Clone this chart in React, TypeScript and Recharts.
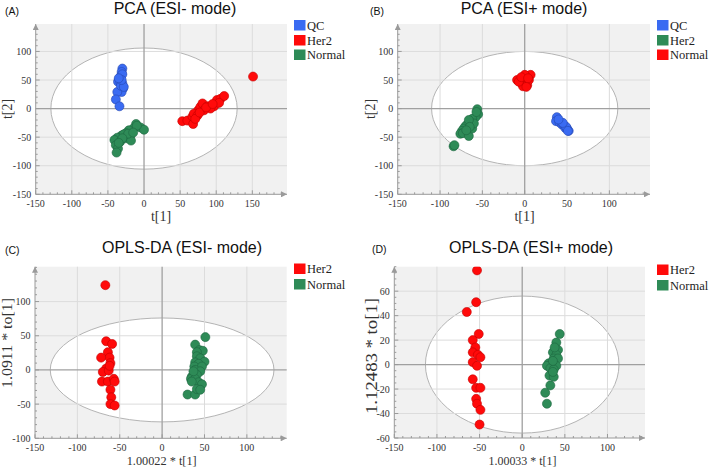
import React from 'react';
import {
  ScatterChart, Scatter, XAxis, YAxis, CartesianGrid,
  ReferenceArea, ReferenceLine
} from 'recharts';

// ---- data (score values) ----
const pcaNegQC = [[-30, 70], [-31, 64], [-32, 57], [-34, 51], [-36, 47], [-33, 47], [-30, 44], [-29, 35], [-31, 29], [-37, 29], [-39, 16], [-34, 4], [-30, 60], [-32, 40], [-28, 38], [-31, 50], [-35, 53]];
const pcaNegHer2 = [[53, -22], [60, -21], [67, -14], [68, -27], [75, -3], [69, -9], [78, 3], [81, 9], [88, 4], [97, 4], [101, 15], [106, 17], [111, 22], [104, 10], [92, 0], [83, -3], [74, -12], [71, -18], [77, -7], [86, 2], [95, 8], [151, 56]];
const pcaNegNormal = [[-11, -27], [-5, -33], [0, -37], [-15, -35], [-21, -38], [-25, -43], [-19, -48], [-25, -52], [-31, -47], [-37, -51], [-41, -55], [-33, -58], [-39, -64], [-36, -70], [-38, -77], [-10, -30], [-18, -56], [-28, -45], [-22, -44], [-30, -52], [-35, -60], [-15, -42]];

const pcaPosQC = [[38, -15], [37, -22], [41, -24], [44, -28], [46, -29], [48, -34], [50, -35], [52, -39], [49, -32], [45, -25], [51, -39], [40, -19]];
const pcaPosHer2 = [[-56, -1], [-55, -10], [-58, -15], [-62, -18], [-64, -25], [-68, -28], [-70, -31], [-72, -35], [-74, -39], [-76, -44], [-73, -43], [-66, -48], [-62, -35], [-60, -26], [-66, -20], [-65, -32], [-84, -66], [-83, -64], [-57, -6], [-69, -38]];
const pcaPosNormal = [[-9, 50], [-4, 45], [-1, 53], [3, 57], [7, 59], [1, 44], [-2, 39], [3, 41], [-7, 47], [5, 50], [0, 59], [-4, 55], [2, 38], [4, 53]];

const oplsNegHer2 = [[-67, 124], [-66, 42], [-59, 38], [-64, 26], [-62, 18], [-72, 18], [-61, 10], [-66, 2], [-70, -3], [-63, -1], [-71, -17], [-64, -17], [-57, -13], [-56, -17], [-61, -29], [-60, -40], [-61, -50], [-56, -52], [-62, 6]];
const oplsNegNormal = [[51, 48], [39, 37], [44, 29], [48, 28], [41, 26], [41, 20], [45, 17], [39, 11], [50, 12], [43, 9], [38, 5], [47, 5], [39, 0], [45, -2], [35, -10], [41, -7], [34, -13], [39, -13], [43, -18], [47, -21], [30, -36], [39, -36], [41, -28], [45, -29], [37, -2], [35, -17]];

const oplsPosHer2 = [[-53, 77], [-54, 51], [-65, 43], [-51, 25], [-58, 20], [-55, 14], [-58, 10], [-52, 8], [-49, 6], [-58, 2], [-53, -1], [-58, -12], [-54, -19], [-49, -19], [-54, -28], [-53, -32], [-49, -37], [-50, -49]];
const oplsPosNormal = [[44, 25], [40, 18], [42, 12], [36, 10], [40, 8], [37, 5], [42, 5], [31, 1], [35, -1], [29, -1], [40, -1], [33, -3], [37, -4], [32, -9], [37, -10], [33, -17], [27, -23], [29, -32], [36, 3], [38, 14], [36, -6]];

// tick labels
const xTicksAll = [-150, -100, -50, 0, 50, 100, 150];
const xTicksB = [-150, -100, -50, 0, 50, 100];
const yTicksPCA = [-150, -100, -50, 0, 50, 100];
const yTicksC = [-100, -50, 0, 50, 100];
const yTicksD = [-60, -40, -20, 0, 20, 40, 60];

const SERIF = '"Liberation Serif", "Times New Roman", serif';
const SANS = '"Liberation Sans", Arial, sans-serif';
const BLUE = '#3a6bf2';
const RED = '#ff0a0a';
const GREEN = '#2e8b57';
const EDGE: Record<string, string> = { [BLUE]: '#2546b0', [RED]: '#c40000', [GREEN]: '#1c6640' };

const toPts = (arr: number[][]) => arr.map(([x, y]) => ({ x, y }));

const minorTicks = (d: number[], step: number) => {
  const out: number[] = [];
  for (let v = d[0]; v <= d[1] + 1e-6; v += step) out.push(Math.round(v * 100) / 100);
  return out;
};

const XTick = ({ x, y, payload, major }: any) => {
  const isMajor = major.includes(payload.value);
  return (
    <g>
      <line x1={x} x2={x} y1={y} y2={y - (isMajor ? 4 : 2)} stroke="#9a9a9a" />
      {isMajor && (
        <text x={x} y={y + 12.5} textAnchor="middle" fontSize={10} fontFamily={SERIF} fill="#333">{payload.value}</text>
      )}
    </g>
  );
};

const YTick = ({ x, y, payload, major }: any) => {
  const isMajor = major.includes(payload.value);
  return (
    <g>
      <line x1={x} x2={x + (isMajor ? 4 : 2)} y1={y} y2={y} stroke="#9a9a9a" />
      {isMajor && (
        <text x={x - 4.5} y={y + 3.5} textAnchor="end" fontSize={10} fontFamily={SERIF} fill="#333">{payload.value}</text>
      )}
    </g>
  );
};

const EllipseShape = (p: any) => (
  <ellipse
    cx={p.x + p.width / 2}
    cy={p.y + p.height / 2}
    rx={Math.abs(p.width) / 2}
    ry={Math.abs(p.height) / 2}
    fill="#ffffff"
    stroke="#b4b4b4"
    strokeWidth={1}
  />
);

const panels = [
  {
    key: 'A', left: 0, top: 0, width: 354, height: 235,
    margin: { top: 24, right: 67, bottom: 20.7, left: 5.7 },
    xDomain: [-150, 198], yDomain: [-150, 148], xMajor: xTicksAll, yMajor: yTicksPCA,
    xStep: 10, yStep: 10, ellipse: [129, 106],
    series: [
      { name: 'QC', color: BLUE, data: pcaNegQC },
      { name: 'Her2', color: RED, data: pcaNegHer2 },
      { name: 'Normal', color: GREEN, data: pcaNegNormal },
    ],
    title: 'PCA (ESI- mode)', titleX: 175, titleY: 14,
    tag: '(A)', tagX: 5, tagY: 14.5,
    xLabel: 't[1]', xLabelX: 161, xLabelY: 221, xSize: 14, xLen: 0,
    yLabel: 't[2]', yLabelX: 11.5, yLabelY: 109, ySize: 14, yLen: 0,
    legX: 294, legY: [20, 35, 49.5],
  },
  {
    key: 'B', left: 354, top: 0, width: 355, height: 235,
    margin: { top: 24, right: 59, bottom: 20.7, left: 13.7 },
    xDomain: [-150, 148], yDomain: [-150, 148], xMajor: xTicksB, yMajor: yTicksPCA,
    xStep: 10, yStep: 10, ellipse: [110, 100],
    series: [
      { name: 'QC', color: BLUE, data: pcaPosQC },
      { name: 'Her2', color: GREEN, data: pcaPosHer2 },
      { name: 'Normal', color: RED, data: pcaPosNormal },
    ],
    title: 'PCA (ESI+ mode)', titleX: 524, titleY: 14,
    tag: '(B)', tagX: 370, tagY: 14.5,
    xLabel: 't[1]', xLabelX: 524.5, xLabelY: 221, xSize: 14, xLen: 0,
    yLabel: 't[2]', yLabelX: 375, yLabelY: 109, ySize: 14, yLen: 0,
    legX: 657, legY: [20, 35, 49.5],
  },
  {
    key: 'C', left: 0, top: 235, width: 354, height: 235,
    margin: { top: 31.7, right: 67.3, bottom: 11.7, left: 5 },
    xDomain: [-150, 147], yDomain: [-100, 151], xMajor: xTicksAll, yMajor: yTicksC,
    xStep: 10, yStep: 10, ellipse: [132, 76],
    series: [
      { name: 'Her2', color: RED, data: oplsNegHer2 },
      { name: 'Normal', color: GREEN, data: oplsNegNormal },
    ],
    title: 'OPLS-DA (ESI- mode)', titleX: 182, titleY: 253,
    tag: '(C)', tagX: 5, tagY: 253.5,
    xLabel: '1.00022 * t[1]', xLabelX: 161.7, xLabelY: 465, xSize: 13, xLen: 70,
    yLabel: '1.0911 * to[1]', yLabelX: 12, yLabelY: 343, ySize: 15, yLen: 90,
    legX: 294, legY: [263.5, 279],
  },
  {
    key: 'D', left: 354, top: 235, width: 355, height: 235,
    margin: { top: 31.7, right: 64, bottom: 12, left: 10.3 },
    xDomain: [-150, 144], yDomain: [-60, 80], xMajor: xTicksB, yMajor: yTicksD,
    xStep: 10, yStep: 5, ellipse: [113.5, 56],
    series: [
      { name: 'Her2', color: RED, data: oplsPosHer2 },
      { name: 'Normal', color: GREEN, data: oplsPosNormal },
    ],
    title: 'OPLS-DA (ESI+ mode)', titleX: 531, titleY: 253,
    tag: '(D)', tagX: 372, tagY: 253,
    xLabel: '1.00033 * t[1]', xLabelX: 522.5, xLabelY: 465, xSize: 13, xLen: 68,
    yLabel: '1.12483 * to[1]', yLabelX: 377, yLabelY: 356, ySize: 16, yLen: 116,
    legX: 657, legY: [264.5, 280],
  },
];

function Panel({ cfg }: { cfg: any }) {
  const [rx, ry] = cfg.ellipse;
  const xGrid = cfg.xMajor.filter((v: number) => v !== cfg.xDomain[0]);
  const yGrid = cfg.yMajor.filter((v: number) => v !== cfg.yDomain[0]);
  return (
    <div style={{ position: 'absolute', left: cfg.left, top: cfg.top }}>
      <ScatterChart width={cfg.width} height={cfg.height} margin={cfg.margin}>
        <CartesianGrid horizontal={false} vertical={false} fill="#f1f1f1" stroke="none" />
        <XAxis
          type="number" dataKey="x" domain={cfg.xDomain} allowDataOverflow
          ticks={minorTicks(cfg.xDomain, cfg.xStep)} interval={0}
          height={20} tickSize={0} tickMargin={0} tickLine={false}
          axisLine={{ stroke: '#9a9a9a', markerEnd: 'url(#axArrow)' }}
          tick={(p: any) => <XTick {...p} major={cfg.xMajor} />}
        />
        <YAxis
          type="number" dataKey="y" domain={cfg.yDomain} allowDataOverflow
          ticks={minorTicks(cfg.yDomain, cfg.yStep)} interval={0}
          width={30} tickSize={0} tickMargin={0} tickLine={false}
          axisLine={{ stroke: '#9a9a9a', markerStart: 'url(#axArrow)' }}
          tick={(p: any) => <YTick {...p} major={cfg.yMajor} />}
        />
        <ReferenceArea x1={-rx} x2={rx} y1={-ry} y2={ry} ifOverflow="visible" shape={EllipseShape} />
        {xGrid.filter((v: number) => v !== 0).map((v: number) => (
          <ReferenceLine key={'gx' + v} x={v} stroke="#dcdcdc" strokeWidth={1} />
        ))}
        {yGrid.filter((v: number) => v !== 0).map((v: number) => (
          <ReferenceLine key={'gy' + v} y={v} stroke="#dcdcdc" strokeWidth={1} />
        ))}
        <ReferenceLine x={0} stroke="#a0a0a0" strokeWidth={1.3} />
        <ReferenceLine y={0} stroke="#a0a0a0" strokeWidth={1.3} />
        {cfg.series.map((s: any) => (
          <Scatter
            key={s.name}
            name={s.name}
            data={toPts(s.data)}
            fill={s.color}
            stroke={EDGE[s.color]}
            strokeWidth={0.6}
            isAnimationActive={false}
          />
        ))}
      </ScatterChart>
    </div>
  );
}

export default function App() {
  return (
    <div style={{ position: 'absolute', left: 0, top: 0, width: 709, height: 470, background: '#ffffff', overflow: 'hidden' }}>
      <svg width={0} height={0} style={{ position: 'absolute' }}>
        <defs>
          <marker id="axArrow" viewBox="0 0 10 10" refX="10" refY="5" markerWidth="7" markerHeight="6" orient="auto-start-reverse">
            <path d="M0,0 L10,5 L0,10 z" fill="#9a9a9a" />
          </marker>
        </defs>
      </svg>
      {panels.map((cfg) => <Panel key={cfg.key} cfg={cfg} />)}
      <svg width={709} height={470} style={{ position: 'absolute', left: 0, top: 0, pointerEvents: 'none' }}>
        {panels.map((cfg) => (
          <g key={'t' + cfg.key}>
            <text x={cfg.titleX} y={cfg.titleY} textAnchor="middle" fontSize={16} fontFamily={SANS} fill="#111">{cfg.title}</text>
            <text x={cfg.tagX} y={cfg.tagY} fontSize={10.5} fontFamily={SANS} fill="#111">{cfg.tag}</text>
            <text
              x={cfg.xLabelX} y={cfg.xLabelY} textAnchor="middle" fontSize={cfg.xSize} fontFamily={SERIF} fill="#333"
              {...(cfg.xLen ? { textLength: cfg.xLen, lengthAdjust: 'spacingAndGlyphs' } : {})}
            >{cfg.xLabel}</text>
            <text
              x={cfg.yLabelX} y={cfg.yLabelY} textAnchor="middle" fontSize={cfg.ySize} fontFamily={SERIF} fill="#333"
              transform={`rotate(-90 ${cfg.yLabelX} ${cfg.yLabelY})`}
              {...(cfg.yLen ? { textLength: cfg.yLen, lengthAdjust: 'spacingAndGlyphs' } : {})}
            >{cfg.yLabel}</text>
            {cfg.series.map((s: any, i: number) => (
              <g key={'l' + s.name}>
                <rect x={cfg.legX} y={cfg.legY[i]} width={11.5} height={10.5} fill={s.color} />
                <text x={cfg.legX + 13} y={cfg.legY[i] + 9.5} fontSize={12.5} fontFamily={SERIF} fill="#222">{s.name}</text>
              </g>
            ))}
          </g>
        ))}
      </svg>
    </div>
  );
}
